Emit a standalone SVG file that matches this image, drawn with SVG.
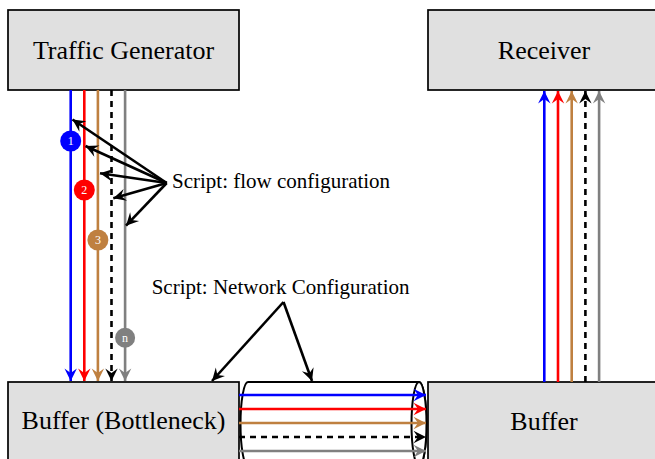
<svg xmlns="http://www.w3.org/2000/svg" width="655" height="459" viewBox="0 0 655 459">
  <style>
    .box { fill: #e0e0e0; stroke: #000; stroke-width: 1.7; }
    .lbl { font-family: "Liberation Serif", "Times New Roman", serif; fill: #000; }
    .big { font-size: 26px; text-anchor: middle; }
    .mid { font-size: 21px; }
    .flow { fill: none; stroke-width: 2.6; }
    .blue { stroke: #0000ff; }
    .red { stroke: #ff0000; }
    .brown { stroke: #bf8040; }
    .black { stroke: #000000; }
    .dash { stroke-dasharray: 6 5; }
    .gray { stroke: #808080; }
    .ptr { fill: none; stroke: #000; stroke-width: 2.6; marker-end: url(#ak); }
    .num { font-family: "Liberation Serif", "Times New Roman", serif; font-size: 12px; fill: #fff; text-anchor: middle; }
    .cyl { fill: #fff; stroke: #000; stroke-width: 2; }
  </style>
  <defs>
    <marker id="ab" viewBox="-14 -8 16 16" refX="0" refY="0" markerWidth="16" markerHeight="16" markerUnits="userSpaceOnUse" orient="auto"><path d="M0,0 L-12.5,-6.2 L-8,0 L-12.5,6.2 Z" fill="#0000ff"/></marker>
    <marker id="ar" viewBox="-14 -8 16 16" refX="0" refY="0" markerWidth="16" markerHeight="16" markerUnits="userSpaceOnUse" orient="auto"><path d="M0,0 L-12.5,-6.2 L-8,0 L-12.5,6.2 Z" fill="#ff0000"/></marker>
    <marker id="an" viewBox="-14 -8 16 16" refX="0" refY="0" markerWidth="16" markerHeight="16" markerUnits="userSpaceOnUse" orient="auto"><path d="M0,0 L-12.5,-6.2 L-8,0 L-12.5,6.2 Z" fill="#bf8040"/></marker>
    <marker id="ak" viewBox="-14 -8 16 16" refX="0" refY="0" markerWidth="16" markerHeight="16" markerUnits="userSpaceOnUse" orient="auto"><path d="M0,0 L-12.5,-6.2 L-8,0 L-12.5,6.2 Z" fill="#000000"/></marker>
    <marker id="ag" viewBox="-14 -8 16 16" refX="0" refY="0" markerWidth="16" markerHeight="16" markerUnits="userSpaceOnUse" orient="auto"><path d="M0,0 L-12.5,-6.2 L-8,0 L-12.5,6.2 Z" fill="#808080"/></marker>
  </defs>

  <g id="traffic-generator">
    <rect class="box" x="8" y="10" width="231" height="80"/>
    <text class="lbl big" x="123.5" y="59">Traffic Generator</text>
  </g>
  <g id="receiver">
    <rect class="box" x="428" y="10" width="232" height="80"/>
    <text class="lbl big" x="544" y="59">Receiver</text>
  </g>
  <g id="buffer-bottleneck">
    <rect class="box" x="8" y="382" width="231" height="84"/>
    <text class="lbl big" x="123.5" y="429">Buffer (Bottleneck)</text>
  </g>
  <g id="buffer">
    <rect class="box" x="428" y="382" width="232" height="84"/>
    <text class="lbl big" x="544" y="430">Buffer</text>
  </g>
  <g id="link">
    <path class="cyl" d="M248,382 L419,382 A7.5,42 0 0 1 419,466 L248,466 A7.5,42 0 0 1 248,382 Z"/>
    <ellipse class="cyl" cx="419" cy="424" rx="7.5" ry="42"/>
  </g>

  <g id="connectors">
    <line class="flow blue" x1="70.7" y1="90" x2="70.7" y2="381" marker-end="url(#ab)"/>
    <line class="flow red" x1="84.3" y1="90" x2="84.3" y2="381" marker-end="url(#ar)"/>
    <line class="flow brown" x1="97.9" y1="90" x2="97.9" y2="381" marker-end="url(#an)"/>
    <line class="flow black dash" x1="111.5" y1="90" x2="111.5" y2="381" marker-end="url(#ak)"/>
    <line class="flow gray" x1="125.1" y1="90" x2="125.1" y2="381" marker-end="url(#ag)"/>
    <line class="flow blue" x1="239" y1="395" x2="426" y2="395" marker-end="url(#ab)"/>
    <line class="flow red" x1="239" y1="409" x2="426" y2="409" marker-end="url(#ar)"/>
    <line class="flow brown" x1="239" y1="423" x2="426" y2="423" marker-end="url(#an)"/>
    <line class="flow black dash" x1="239" y1="437" x2="426" y2="437" marker-end="url(#ak)"/>
    <line class="flow gray" x1="239" y1="451" x2="426" y2="451" marker-end="url(#ag)"/>
    <line class="flow blue" x1="544.3" y1="382" x2="544.3" y2="91" marker-end="url(#ab)"/>
    <line class="flow red" x1="558" y1="382" x2="558" y2="91" marker-end="url(#ar)"/>
    <line class="flow brown" x1="571.7" y1="382" x2="571.7" y2="91" marker-end="url(#an)"/>
    <line class="flow black dash" x1="585.4" y1="382" x2="585.4" y2="91" marker-end="url(#ak)"/>
    <line class="flow gray" x1="599.1" y1="382" x2="599.1" y2="91" marker-end="url(#ag)"/>
    <line class="ptr" x1="166.7" y1="183" x2="72.5" y2="119.5"/>
    <line class="ptr" x1="166.7" y1="183" x2="85.5" y2="146"/>
    <line class="ptr" x1="166.7" y1="183" x2="100" y2="173.3"/>
    <line class="ptr" x1="166.7" y1="183" x2="113.3" y2="198.3"/>
    <line class="ptr" x1="166.7" y1="183" x2="126" y2="225.7"/>
    <line class="ptr" x1="283.5" y1="302" x2="212" y2="381"/>
    <line class="ptr" x1="283.5" y1="302" x2="312" y2="381"/>
  </g>

  <g id="flow-markers">
    <circle cx="70.7" cy="141" r="10.5" fill="#0000ff"/>
    <text class="num" x="70.7" y="145.2">1</text>
    <circle cx="84.3" cy="190" r="10.5" fill="#ff0000"/>
    <text class="num" x="84.3" y="194.2">2</text>
    <circle cx="97.9" cy="240" r="10.5" fill="#bf8040"/>
    <text class="num" x="97.9" y="244.2">3</text>
    <circle cx="125.1" cy="337.7" r="10" fill="#808080"/>
    <text class="num" x="125.1" y="341.5">n</text>
  </g>

  <g id="labels">
    <text class="lbl mid" x="172" y="188">Script: flow configuration</text>
    <text class="lbl mid" x="151.7" y="294">Script: Network Configuration</text>
  </g>
</svg>
